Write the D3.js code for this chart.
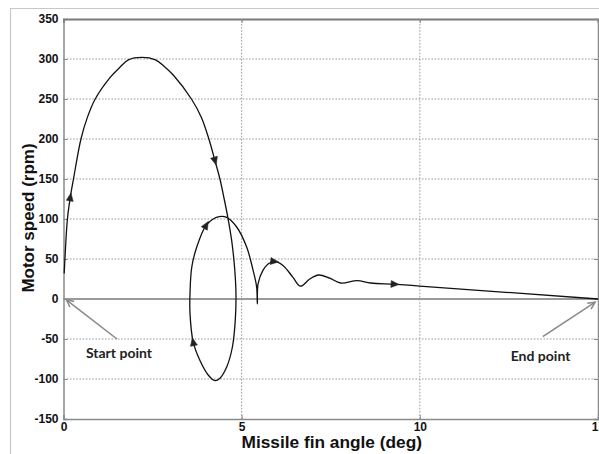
<!DOCTYPE html>
<html>
<head>
<meta charset="utf-8">
<script src="https://cdn.jsdelivr.net/npm/d3@7"></script>
<style>
  html, body { margin: 0; padding: 0; background: #fff; }
  svg { display: block; }
</style>
</head>
<body>
<svg id="chart" width="599" height="454"></svg>
<script>
// ---- data ----
const xTicks = [0, 5, 10, 15];
const yTicks = [-150, -100, -50, 0, 50, 100, 150, 200, 250, 300, 350];
const xLabel = "Missile fin angle (deg)";
const yLabel = "Motor speed (rpm)";

// trajectory: fin angle (deg)
const angle = [0.02, 0.04, 0.11, 0.19, 0.28, 0.49, 0.67, 0.89, 1.31, 1.59, 1.82, 2.20, 2.58, 2.82, 3.08, 3.59, 3.87, 4.08,
  4.25, 4.39, 4.51, 4.62, 4.72, 4.80, 4.84, 4.82, 4.74, 4.58, 4.39, 4.25, 4.06, 3.83, 3.64, 3.55, 3.55,
  3.60, 3.74, 4.00, 4.20, 4.37, 4.58, 4.86, 5.14, 5.32, 5.42, 5.44, 5.46, 5.60, 5.75, 5.91, 6.16, 6.44,
  6.65, 6.91, 7.16, 7.47, 7.78, 8.24, 8.62, 9.29, 10.0, 15.0];
// trajectory: motor speed (rpm)
const speed = [32, 50, 100, 127, 150, 200, 227, 250, 277, 290, 299, 302, 299, 291, 280, 250, 227, 200,
  173, 150, 125, 100, 73, 40, 7, -27, -60, -85, -99, -102, -95, -77, -54, -18, 7,
  40, 65, 92, 100, 103, 102, 90, 65, 36, 15, -6, 19, 36, 44, 47, 42, 27,
  16, 25, 30, 26, 20, 23, 20, 18.5, 16.2, 0];

// direction markers along the trajectory (indices into the arrays above)
const arrowIdx = [3, 18, 32, 37, 49, 59];

// annotations (data units)
const notes = [
  { text: "Start point", from: [1.5, -50], to: [0.08, -1], tx: 0.63, ty: -74 },
  { text: "End point", from: [13.45, -47], to: [14.92, -4], tx: 12.55, ty: -78 }
];

// ---- chart ----
const svg = d3.select("#chart");
const x = d3.scaleLinear().domain([0, 15]).range([63.5, 598]);
const y = d3.scaleLinear().domain([-150, 350]).range([419, 19]);

// outer figure frame
svg.append("path")
  .attr("d", "M10.5,454 L10.5,8.5 L599,8.5")
  .attr("fill", "none").attr("stroke", "#c8c8c8").attr("stroke-width", 1.2);

// gridlines
const grid = svg.append("g");
grid.selectAll(".gy").data(yTicks.filter(v => v !== 0 && v !== -150 && v !== 350)).join("line")
  .attr("x1", x(0)).attr("x2", x(15))
  .attr("y1", d => y(d)).attr("y2", d => y(d))
  .attr("stroke", "#9a9a9a").attr("stroke-width", 1).attr("stroke-dasharray", "1.6,1.6");
grid.selectAll(".gx").data(xTicks.filter(v => v !== 0 && v !== 15)).join("line")
  .attr("x1", d => x(d)).attr("x2", d => x(d))
  .attr("y1", y(-150)).attr("y2", y(350))
  .attr("stroke", "#9a9a9a").attr("stroke-width", 1).attr("stroke-dasharray", "1.6,1.6");

// zero line
svg.append("line")
  .attr("x1", x(0)).attr("x2", x(15)).attr("y1", y(0)).attr("y2", y(0))
  .attr("stroke", "#9a9a9a").attr("stroke-width", 2);

// axes
const tickFont = "bold 12px 'Liberation Sans', Arial, sans-serif";
const fmt = d => String(d);
const axL = svg.append("g").attr("transform", `translate(${x(0)},0)`)
  .call(d3.axisLeft(y).tickValues(yTicks).tickSize(-4).tickPadding(5).tickFormat(fmt));
const axB = svg.append("g").attr("transform", `translate(0,${y(-150)})`)
  .call(d3.axisBottom(x).tickValues(xTicks).tickSize(-4).tickPadding(3).tickFormat(fmt));
const axT = svg.append("g").attr("transform", `translate(0,${y(350)})`)
  .call(d3.axisTop(x).tickValues(xTicks).tickSize(-4).tickFormat(""));
const axR = svg.append("g").attr("transform", `translate(${x(15)},0)`)
  .call(d3.axisRight(y).tickValues(yTicks).tickSize(-4).tickFormat(""));
[axL, axB, axT, axR].forEach(a => {
  a.selectAll("path").attr("stroke", "#8a8a8a").attr("stroke-width", 1.5);
  a.selectAll("line").attr("stroke", "#8a8a8a");
  a.selectAll("text").style("font", tickFont).attr("fill", "#111");
});
axT.select("path").attr("stroke", "#7a7a7a").attr("stroke-width", 2);

// axis labels
svg.append("text")
  .attr("x", (x(0) + x(15)) / 2 + 1).attr("y", 448)
  .attr("text-anchor", "middle")
  .style("font", "bold 17.3px 'Liberation Sans', Arial, sans-serif").attr("fill", "#111")
  .text(xLabel);
svg.append("text")
  .attr("transform", `translate(34,${(143 + 293) / 2}) rotate(-90)`)
  .attr("text-anchor", "middle")
  .style("font", "bold 17px 'Liberation Sans', Arial, sans-serif").attr("fill", "#111")
  .text(yLabel);

// trajectory
const pts = angle.map((a, i) => [a, speed[i]]);
const line = d3.line().x(d => x(d[0])).y(d => y(d[1])).curve(d3.curveCatmullRom.alpha(0.5));
svg.append("path").datum(pts)
  .attr("d", line).attr("fill", "none")
  .attr("stroke", "#111").attr("stroke-width", 1.3);

// direction markers
arrowIdx.forEach(i => {
  const p0 = pts[i - 1], p1 = pts[i + 1];
  const ang = Math.atan2(y(p1[1]) - y(p0[1]), x(p1[0]) - x(p0[0])) * 180 / Math.PI;
  svg.append("path")
    .attr("d", "M4.5,0 L-3.5,-3.5 L-3.5,3.5 Z")
    .attr("transform", `translate(${x(pts[i][0])},${y(pts[i][1])}) rotate(${ang})`)
    .attr("fill", "#222").attr("stroke", "#222").attr("stroke-width", 0.5);
});

// annotations
notes.forEach(n => {
  const x1 = x(n.from[0]), y1 = y(n.from[1]), x2 = x(n.to[0]), y2 = y(n.to[1]);
  const a = Math.atan2(y2 - y1, x2 - x1);
  const L = 8, w = 0.45;
  svg.append("line").attr("x1", x1).attr("y1", y1).attr("x2", x2).attr("y2", y2)
    .attr("stroke", "#888").attr("stroke-width", 1.5);
  svg.append("path")
    .attr("d", `M${x2 - L * Math.cos(a - w)},${y2 - L * Math.sin(a - w)} L${x2},${y2} L${x2 - L * Math.cos(a + w)},${y2 - L * Math.sin(a + w)}`)
    .attr("fill", "none").attr("stroke", "#888").attr("stroke-width", 1.5);
  svg.append("text")
    .attr("x", x(n.tx)).attr("y", y(n.ty))
    .style("font", "bold 14px Lato, 'Open Sans', sans-serif").attr("fill", "#222")
    .text(n.text);
});
</script>
</body>
</html>
